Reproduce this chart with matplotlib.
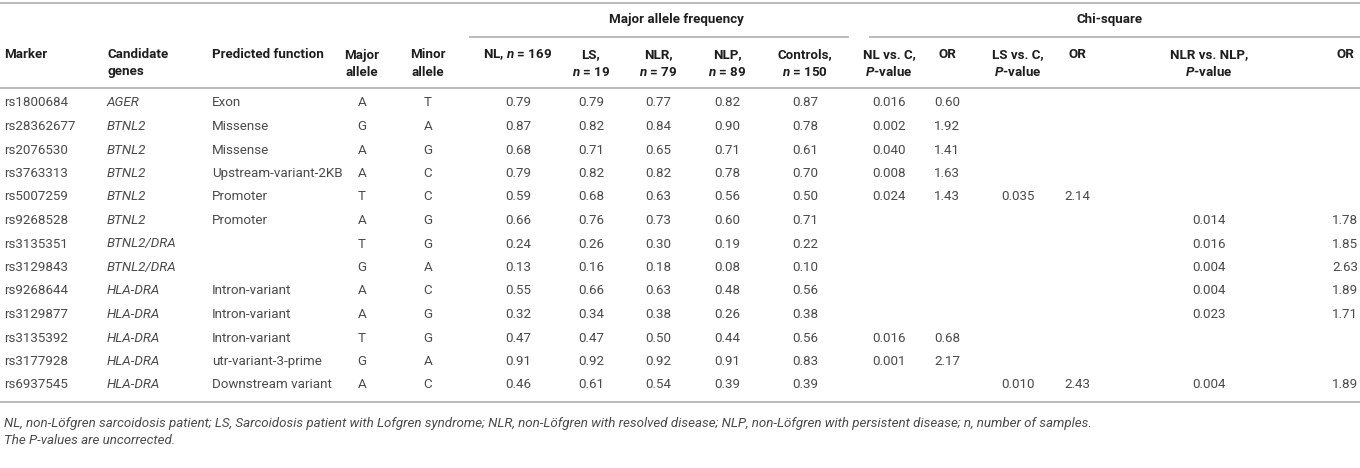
import matplotlib
matplotlib.use("Agg")
import matplotlib.pyplot as plt

plt.rcParams['font.family'] = ['Roboto', 'DejaVu Sans']
plt.rcParams['mathtext.fontset'] = 'custom'
plt.rcParams['mathtext.it'] = 'Roboto:italic:bold'
plt.rcParams['mathtext.rm'] = 'Roboto:bold'

markers = ["rs1800684", "rs28362677", "rs2076530", "rs3763313", "rs5007259", "rs9268528",
           "rs3135351", "rs3129843", "rs9268644", "rs3129877", "rs3135392", "rs3177928", "rs6937545"]
genes = ["AGER", "BTNL2", "BTNL2", "BTNL2", "BTNL2", "BTNL2", "BTNL2/DRA", "BTNL2/DRA",
         "HLA-DRA", "HLA-DRA", "HLA-DRA", "HLA-DRA", "HLA-DRA"]
functions = ["Exon", "Missense", "Missense", "Upstream-variant-2KB", "Promoter", "Promoter", "", "",
             "Intron-variant", "Intron-variant", "Intron-variant", "utr-variant-3-prime", "Downstream variant"]
major = ["A", "G", "A", "A", "T", "A", "T", "G", "A", "A", "T", "G", "A"]
minor = ["T", "A", "G", "C", "C", "G", "G", "A", "C", "G", "G", "A", "C"]
nl = ["0.79", "0.87", "0.68", "0.79", "0.59", "0.66", "0.24", "0.13", "0.55", "0.32", "0.47", "0.91", "0.46"]
ls = ["0.79", "0.82", "0.71", "0.82", "0.68", "0.76", "0.26", "0.16", "0.66", "0.34", "0.47", "0.92", "0.61"]
nlr = ["0.77", "0.84", "0.65", "0.82", "0.63", "0.73", "0.30", "0.18", "0.63", "0.38", "0.50", "0.92", "0.54"]
nlp = ["0.82", "0.90", "0.71", "0.78", "0.56", "0.60", "0.19", "0.08", "0.48", "0.26", "0.44", "0.91", "0.39"]
controls = ["0.87", "0.78", "0.61", "0.70", "0.50", "0.71", "0.22", "0.10", "0.56", "0.38", "0.56", "0.83", "0.39"]
nl_c_p = ["0.016", "0.002", "0.040", "0.008", "0.024", "", "", "", "", "", "0.016", "0.001", ""]
nl_c_or = ["0.60", "1.92", "1.41", "1.63", "1.43", "", "", "", "", "", "0.68", "2.17", ""]
ls_c_p = ["", "", "", "", "0.035", "", "", "", "", "", "", "", "0.010"]
ls_c_or = ["", "", "", "", "2.14", "", "", "", "", "", "", "", "2.43"]
nlr_nlp_p = ["", "", "", "", "", "0.014", "0.016", "0.004", "0.004", "0.023", "", "", "0.004"]
nlr_nlp_or = ["", "", "", "", "", "1.78", "1.85", "2.63", "1.89", "1.71", "", "", "1.89"]

headers = [["Marker"], ["Candidate", "genes"], ["Predicted function"], ["Major", "allele"],
           ["Minor", "allele"], ["NL, $n$ = 169"], ["LS,", "$n$ = 19"], ["NLR,", "$n$ = 79"],
           ["NLP,", "$n$ = 89"], ["Controls,", "$n$ = 150"], ["NL vs. C,", "$P$-value"], ["OR"],
           ["LS vs. C,", "$P$-value"], ["OR"], ["NLR vs. NLP,", "$P$-value"], ["OR"]]
group1 = "Major allele frequency"
group2 = "Chi-square"
footnote1 = ("NL, non-Löfgren sarcoidosis patient; LS, Sarcoidosis patient with Lofgren syndrome; "
             "NLR, non-Löfgren with resolved disease; NLP, non-Löfgren with persistent disease; n, number of samples.")
footnote2 = "The P-values are uncorrected."

columns = [markers, genes, functions, major, minor, nl, ls, nlr, nlp, controls,
           nl_c_p, nl_c_or, ls_c_p, ls_c_or, nlr_nlp_p, nlr_nlp_or]

# layout
col_x = [4, 107, 212, 362, 428, 518, 591, 658, 727, 805, 889, 947, 1018, 1077, 1209, 1345]
col_ha = ["left", "left", "left"] + ["center"] * 13
italic_cols = {1}

W, H = 1360, 468
fig = plt.figure(figsize=(W / 100, H / 100), dpi=100)
ax = fig.add_axes([0, 0, 1, 1])
ax.set_xlim(0, W)
ax.set_ylim(H, 0)
ax.axis("off")

line_c = "#b4b4b4"
lw = 1.3
ax.plot([0, W], [3, 3], color=line_c, lw=lw)
ax.plot([470, 848], [37, 37], color=line_c, lw=lw)
ax.plot([870, W], [37, 37], color=line_c, lw=lw)
ax.plot([0, W], [88, 88], color=line_c, lw=lw)
ax.plot([0, W], [402, 402], color=line_c, lw=lw)

hdr_c = "#1e1e1e"
txt_c = "#4a4a4a"
fs = 9.6

ax.text(676, 20, group1, ha="center", va="center", fontsize=fs, fontweight="bold", color=hdr_c)
ax.text(1110, 20, group2, ha="center", va="center", fontsize=fs, fontweight="bold", color=hdr_c)

for x, ha, hd in zip(col_x, col_ha, headers):
    if len(hd) == 1:
        ax.text(x, 55, hd[0], ha=ha, va="center", fontsize=fs, fontweight="bold", color=hdr_c)
    else:
        ax.text(x, 55, hd[0], ha=ha, va="center", fontsize=fs, fontweight="bold", color=hdr_c)
        ax.text(x, 72, hd[1], ha=ha, va="center", fontsize=fs, fontweight="bold", color=hdr_c)

row_y0, row_dy = 103, 23.5
for ci, (x, ha, col) in enumerate(zip(col_x, col_ha, columns)):
    for ri, val in enumerate(col):
        if not val:
            continue
        ax.text(x, row_y0 + ri * row_dy, val, ha=ha, va="center", fontsize=fs,
                fontweight="normal", color=txt_c,
                fontstyle="italic" if ci in italic_cols else "normal")

ax.text(4, 424, footnote1, ha="left", va="center", fontsize=9.6, fontstyle="italic",
        color=txt_c)
ax.text(4, 441, footnote2, ha="left", va="center", fontsize=9.6, fontstyle="italic",
        color=txt_c)

fig.savefig("out.png", dpi=100)
